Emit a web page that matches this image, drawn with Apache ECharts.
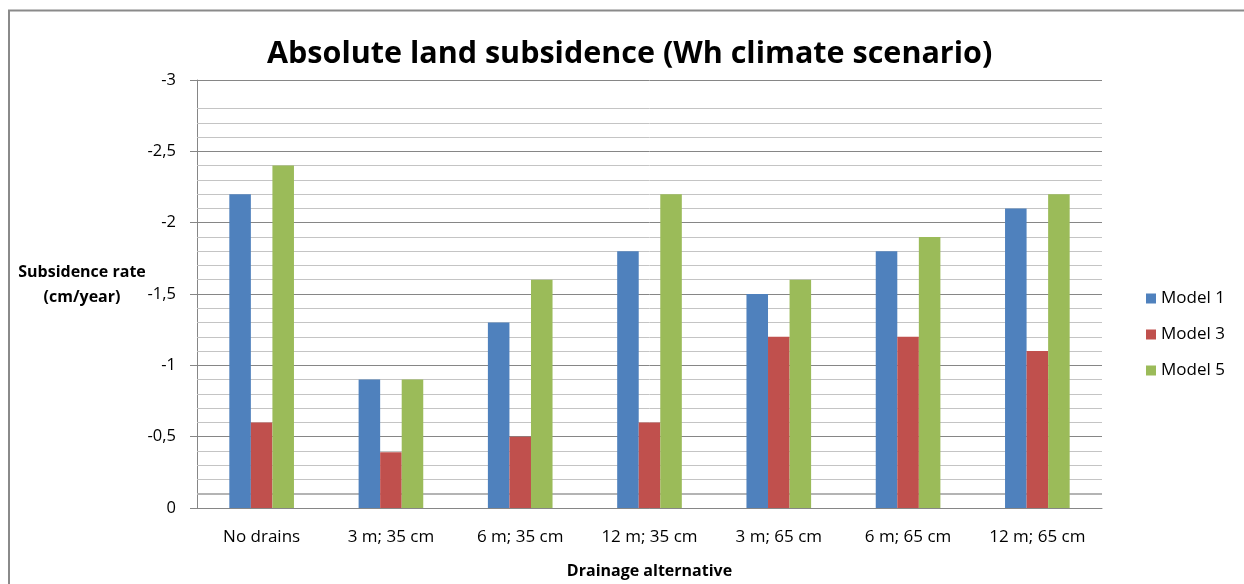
<!DOCTYPE html>
<html>
<head>
<meta charset="utf-8">
<script src="https://cdn.jsdelivr.net/npm/echarts@6/dist/echarts.min.js"></script>
<style>
  html, body { margin: 0; padding: 0; background: #fff; }
  #chart { width: 1244px; height: 584px; }
</style>
</head>
<body>
<div id="chart"></div>
<script>
// Drainage alternatives (drain spacing; drain depth)
const categories = ['No drains', '3 m; 35 cm', '6 m; 35 cm', '12 m; 35 cm', '3 m; 65 cm', '6 m; 65 cm', '12 m; 65 cm'];
// Subsidence rate in cm/year per model
const model1 = [-2.2, -0.9, -1.3, -1.8, -1.5, -1.8, -2.1];
const model3 = [-0.6, -0.39, -0.5, -0.6, -1.2, -1.2, -1.1];
const model5 = [-2.4, -0.9, -1.6, -2.2, -1.6, -1.9, -2.2];
// Fine gridlines between the labelled ticks
const minorGrid = [-2.8, -2.7, -2.6, -2.4, -2.3, -2.2, -2.1, -1.9, -1.8, -1.7, -1.6, -1.4, -1.3, -1.2, -1.1,
                   -0.9, -0.8, -0.7, -0.6, -0.4, -0.3, -0.2, -0.1];

const FONT = '"Open Sans", sans-serif';
const chart = echarts.init(document.getElementById('chart'), null, { renderer: 'canvas' });

const minorLines = minorGrid.map(v => ({
  yAxis: v,
  lineStyle: Math.abs(v + 0.1) < 1e-9
    ? { color: '#b4b4b4', width: 2, type: 'solid' }
    : { color: '#c4c4c4', width: 1, type: 'solid' }
}));

function barSeries(name, data, color) {
  return {
    name: name,
    type: 'bar',
    data: data,
    barGap: '0%',
    barCategoryGap: '50%',
    itemStyle: { color: color },
    emphasis: { disabled: true },
    z: 2
  };
}

const s1 = barSeries('Model 1', model1, '#4F81BD');
s1.markLine = {
  silent: true,
  symbol: ['none', 'none'],
  label: { show: false },
  z: 1,
  animation: false,
  data: minorLines
};

chart.setOption({
  animation: false,
  backgroundColor: '#ffffff',
  textStyle: { fontFamily: FONT },
  title: {
    text: 'Absolute land subsidence (Wh climate scenario)',
    left: 262,
    top: 34,
    textStyle: { fontFamily: FONT, fontSize: 30.5, fontWeight: 'bold', color: '#000' }
  },
  grid: { left: 197, right: 142, top: 80, bottom: 73, containLabel: false },
  legend: {
    orient: 'vertical',
    left: 1141,
    top: 285,
    itemWidth: 10,
    itemHeight: 10,
    itemGap: 19,
    icon: 'rect',
    textStyle: { fontFamily: FONT, fontSize: 17, color: '#000', padding: [0, 0, 0, 0] },
    data: ['Model 1', 'Model 3', 'Model 5']
  },
  xAxis: {
    type: 'category',
    data: categories,
    name: 'Drainage alternative',
    nameLocation: 'middle',
    nameGap: 55,
    nameTextStyle: { fontFamily: FONT, fontSize: 16, fontWeight: 'bold', color: '#000' },
    axisLine: { show: true, lineStyle: { color: '#868686', width: 1 } },
    axisTick: { show: false },
    axisLabel: { fontFamily: FONT, fontSize: 17, color: '#000', margin: 21 },
    splitLine: { show: false }
  },
  yAxis: {
    type: 'value',
    inverse: true,
    min: -3,
    max: 0,
    interval: 0.5,
    axisLine: { show: true, lineStyle: { color: '#868686', width: 1 } },
    axisTick: { show: true, inside: false, length: 7, lineStyle: { color: '#868686' } },
    axisLabel: {
      fontFamily: FONT, fontSize: 16.5, color: '#000', margin: 21,
      padding: [3, 0, 0, 0],
      formatter: v => String(Math.round(v * 10) / 10).replace('.', ',')
    },
    splitLine: { show: true, lineStyle: { color: '#868686', width: 1 } }
  },
  graphic: [
    {
      type: 'rect',
      shape: { x: 9, y: 10.5, width: 1300, height: 700 },
      style: { fill: 'none', stroke: '#8a8a8a', lineWidth: 2 },
      silent: true
    },
    {
      type: 'text',
      x: 82,
      y: 260,
      style: {
        text: 'Subsidence rate\n(cm/year)',
        font: 'bold 16px ' + FONT,
        fill: '#000',
        align: 'center',
        verticalAlign: 'top',
        lineHeight: 25
      },
      silent: true
    }
  ],
  series: [
    s1,
    barSeries('Model 3', model3, '#C0504D'),
    barSeries('Model 5', model5, '#9BBB59')
  ]
});
</script>
</body>
</html>
